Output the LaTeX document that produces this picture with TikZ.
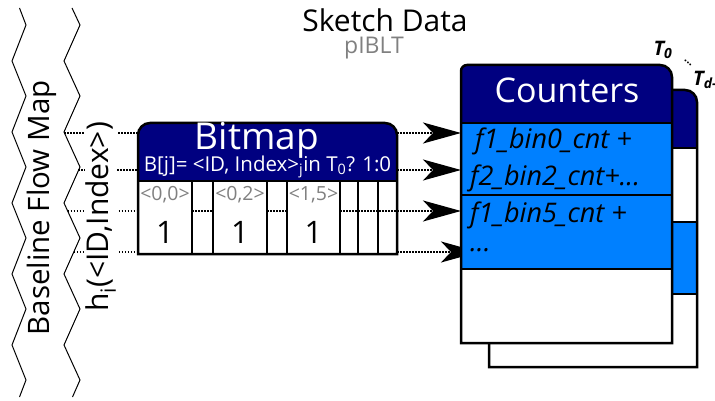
\documentclass[tikz,border=0pt]{standalone}
\usepackage{fontspec}
\setmainfont{Open Sans}
\usetikzlibrary{arrows.meta}
\definecolor{navy}{RGB}{0,0,128}
\definecolor{cblue}{RGB}{0,128,255}
\definecolor{lgray}{RGB}{128,128,128}
\tikzset{
  zig/.style={line width=1pt, black},
  dotline/.style={line width=1.5pt, dash pattern=on 1.5pt off 1.5pt},
  bigarrow/.style={dotline, -{Stealth[length=38pt, width=21pt, inset=10pt]}},
  boxline/.style={line width=2.5pt, black},
  thinbox/.style={line width=2pt, black},
  fs/.style={font=\fontsize{#1}{#1}\selectfont},
  cnttext/.style={anchor=west, inner sep=0pt, font=\fontsize{27}{27}\selectfont\itshape},
  tlabel/.style={font=\fontsize{20}{20}\selectfont\bfseries\itshape, inner sep=0pt},
}
\begin{document}
\begin{tikzpicture}[x=1pt,y=-1pt]
\useasboundingbox (0,0) rectangle (715,401);
% torn edges
\draw[zig] (19.5,8) -- (26,25) -- (12,61) -- (26,96) -- (12,132) -- (26,167) -- (12,203) -- (26,238) -- (12,274) -- (26,309) -- (12,345) -- (26,380) -- (19.5,397);
\draw[zig] (72,8) -- (80,25) -- (64,61) -- (80,96) -- (64,132) -- (80,167) -- (64,203) -- (80,238) -- (64,274) -- (80,309) -- (64,345) -- (80,380) -- (72.5,397);
% start points on torn edge
\coordinate (z1) at (64,133);
\coordinate (z2) at (78.2,170);
\coordinate (z3) at (67.7,211);
\coordinate (z4) at (73.8,252);
% bitmap side coordinates
\coordinate (bl1) at (138,133);
\coordinate (bl2) at (138,170);
\coordinate (bl3) at (138,211);
\coordinate (bl4) at (138,252);
\coordinate (br1) at (397,133);
\coordinate (br2) at (397,170);
\coordinate (br3) at (397,211);
\coordinate (br4) at (397,252);
\draw[dotline] (z1) -- (bl1);
\draw[dotline] (z2) -- (bl2);
\draw[dotline] (z3) -- (bl3);
\draw[dotline] (z4) -- (bl4);
% texts on the left
\node[fs=29.5, rotate=90, inner sep=0pt] (bfm) at (42,208) {Baseline Flow Map};
\node[fs=30, rotate=90, fill=white, inner sep=1pt] (hid) at (101,217) {h\textsubscript{i}(<ID,Index>)};
% title
\node[fs=30, inner sep=0pt] (title) at (385,20) {Sketch Data};
\node[fs=23, text=lgray, inner sep=0pt] (sub) at (374,48) {pIBLT};
% bitmap
\fill[navy] (138,181) [rounded corners=12] -- (138,123) -- (397,123) [sharp corners] -- (397,181) -- cycle;
\fill[white] (138,181) rectangle (397,254);
\draw[dotline] (192,211) -- (213,211);
\draw[dotline] (267,211) -- (287,211);
\draw[dotline] (340,211) -- (397,211);
\draw[boxline] (138,254) -- (138,181) [rounded corners=12] -- (138,123) -- (397,123) [sharp corners] -- (397,181) -- (397,254) -- cycle;
\draw[boxline] (138,181) -- (397,181);
\foreach \xx in {192,213,267,287,340,358,378} {\draw[thinbox] (\xx,181) -- (\xx,254);}
\node[fs=37, text=white, inner sep=0pt] (bmt) at (257,140) {Bitmap};
\node[fs=20.5, text=white, inner sep=0pt] (bmf) at (267.5,167) {B[j]= <ID, Index>\textsubscript{j}in T\textsubscript{0}? 1:0};
\node[fs=19.5, text=lgray, inner sep=0pt] (c1) at (165,195) {<0,0>};
\node[fs=19.5, text=lgray, inner sep=0pt] (c2) at (240,195) {<0,2>};
\node[fs=19.5, text=lgray, inner sep=0pt] (c3) at (313.5,195) {<1,5>};
\node[fs=31, inner sep=0pt] (v1) at (165,232) {1};
\node[fs=31, inner sep=0pt] (v2) at (240,232) {1};
\node[fs=31, inner sep=0pt] (v3) at (313.5,232) {1};
% back counters box
\fill[white] (489,148) rectangle (697,367);
\fill[cblue] (489,222) rectangle (697,294);
\fill[navy] (489,148) [rounded corners=6] -- (489,90) [rounded corners=12] -- (697,90) [sharp corners] -- (697,148) -- cycle;
\draw[boxline] (489,367) -- (489,148) [rounded corners=6] -- (489,90) [rounded corners=12] -- (697,90) [sharp corners] -- (697,367) -- cycle;
\draw[boxline] (489,148) -- (697,148) (489,222) -- (697,222) (489,294) -- (697,294);
% front counters box
\node[minimum width=211pt, minimum height=278pt, inner sep=0pt, anchor=north west] (cnt) at (461,65) {};
% arrows
\draw[bigarrow] (br1) -- (cnt.west |- br1);
\draw[bigarrow] (br2) -- (cnt.west |- br2);
\draw[bigarrow] (br3) -- (cnt.west |- br3);
\draw[bigarrow] (br4) -- ([xshift=18pt]cnt.west |- br4);
\fill[white] (461,269) rectangle (672,343);
\fill[cblue] (461,123) rectangle (672,269);
\fill[navy] (461,123) [rounded corners=6] -- (461,65) [rounded corners=12] -- (672,65) [sharp corners] -- (672,123) -- cycle;
\draw[boxline] (461,343) -- (461,123) [rounded corners=6] -- (461,65) [rounded corners=12] -- (672,65) [sharp corners] -- (672,343) -- cycle;
\draw[boxline] (461,123) -- (672,123) (461,195) -- (672,195) (461,269) -- (672,269);
\node[fs=34, text=white, inner sep=0pt] (cntt) at (567,90) {Counters};
\node[cnttext] (r1) at (475,141) {f1\_bin0\_cnt +};
\node[cnttext] (r2) at (470,178) {f2\_bin2\_cnt+...};
\node[cnttext] (r3) at (470,215) {f1\_bin5\_cnt +};
\node[cnttext] (r4) at (470,250) {...};
% table labels
\node[tlabel] (t0) at (663,50) {T\textsubscript{0}};
\node[font=\fontsize{11}{11}\selectfont\bfseries, rotate=-40, inner sep=0pt] (tdots) at (688,63) {...};
\node[tlabel, anchor=west] (td) at (693,80) {T\textsubscript{d-1}};
\end{tikzpicture}
\end{document}
